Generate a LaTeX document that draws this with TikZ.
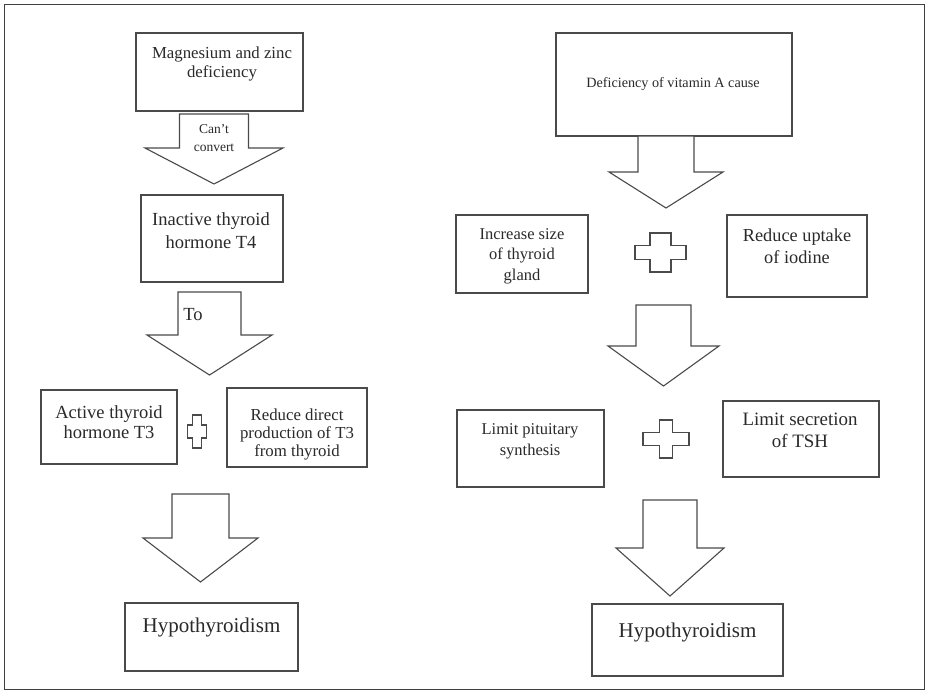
\documentclass[tikz,border=0pt]{standalone}
\usepackage{fontspec}
\setmainfont{Liberation Serif}
\usetikzlibrary{fit}
\definecolor{linec}{HTML}{4A4A4A}
\definecolor{textc}{HTML}{2A2A2A}
\tikzset{
  box/.style={draw=linec, line width=1.4pt, inner sep=0pt, fill=white},
  arrowbody/.style={draw=linec, line width=1.1pt, line join=miter, fill=white},
  plusst/.style={draw=linec, line width=1.1pt, fill=white},
  txt/.style={text=textc, align=center, inner sep=0pt},
  frame/.style={draw=black!75, line width=0.8pt}
}
\newcommand{\blockarr}[6]{%
  \draw[arrowbody] (#1-#3,#2) -- (#1-#3,#4) -- (#1-#5,#4) -- (#1,#6) -- (#1+#5,#4) -- (#1+#3,#4) -- (#1+#3,#2) -- cycle;}
\newcommand{\plusshape}[6]{%
  \draw[plusst] (#1-#5,#2-#4) -- (#1+#5,#2-#4) -- (#1+#5,#2-#6) -- (#1+#3,#2-#6) -- (#1+#3,#2+#6) -- (#1+#5,#2+#6) -- (#1+#5,#2+#4) -- (#1-#5,#2+#4) -- (#1-#5,#2+#6) -- (#1-#3,#2+#6) -- (#1-#3,#2-#6) -- (#1-#5,#2-#6) -- cycle;}
\begin{document}
\begin{tikzpicture}[x=1pt,y=-1pt]
\useasboundingbox (0,0) rectangle (928,693);
\fill[white] (0,0) rectangle (928,693);
\draw[frame] (4,4) rectangle (924,689);

% ---------- left column ----------
\node[box, fit={(136,33) (303,111)}] (l1) {};
\node[txt, font=\fontsize{16.8}{19}\selectfont] (l1t) at (222,64) {Magnesium and zinc\\deficiency};

\blockarr{214}{114}{34.5}{148}{69}{184}
\node[txt, font=\fontsize{13.5}{18}\selectfont] (a1t) at (214,138) {Can't\\convert};

\node[box, fit={(141,195) (283,282)}] (l2) {};
\node[txt, font=\fontsize{18.5}{23}\selectfont] (l2t) at (211,231) {Inactive thyroid\\hormone T4};

\blockarr{209.5}{292}{31.5}{335}{62.5}{375}
\node[txt, font=\fontsize{18.5}{22}\selectfont] (a2t) at (193,315) {To};

\node[box, fit={(41,390) (177,464)}] (l3a) {};
\node[txt, font=\fontsize{18.5}{20}\selectfont] (l3at) at (109,422) {Active thyroid\\hormone T3};

\plusshape{197}{431.5}{9.5}{16.5}{4.5}{6.5}

\node[box, fit={(227,388) (367,467)}] (l3b) {};
\node[txt, font=\fontsize{16.8}{18}\selectfont] (l3bt) at (297,434) {Reduce direct\\production of T3\\from thyroid};

\blockarr{200.5}{494}{28.5}{538}{57.5}{582}

\node[box, fit={(125,603) (298,671)}] (l4) {};
\node[txt, font=\fontsize{21}{24}\selectfont] (l4t) at (211.5,627) {Hypothyroidism};

% ---------- right column ----------
\node[box, fit={(556,33) (792,136)}] (r1) {};
\node[txt, font=\fontsize{14.2}{17}\selectfont] (r1t) at (673,84) {Deficiency of vitamin A cause};

\blockarr{666}{136}{28}{172}{57}{208}

\node[box, fit={(456,215) (588,293)}] (r2a) {};
\node[txt, font=\fontsize{16.5}{20.5}\selectfont] (r2at) at (522,256) {Increase size\\of thyroid\\gland};

\plusshape{660.5}{252.5}{25.5}{19.5}{10.5}{7}

\node[box, fit={(727,215) (867,297)}] (r2b) {};
\node[txt, font=\fontsize{18.3}{22}\selectfont] (r2bt) at (797,246) {Reduce uptake\\of iodine};

\blockarr{663.5}{305}{27.5}{346}{55.5}{386}

\node[box, fit={(457,410) (604,487)}] (r3a) {};
\node[txt, font=\fontsize{16.5}{21}\selectfont] (r3at) at (530,441) {Limit pituitary\\synthesis};

\plusshape{666}{439}{23}{19}{6.5}{6.5}

\node[box, fit={(723,401) (879,477)}] (r3b) {};
\node[txt, font=\fontsize{18.9}{22}\selectfont] (r3bt) at (800,430) {Limit secretion\\of TSH};

\blockarr{670}{500}{27}{548}{54}{596}

\node[box, fit={(592,604) (783,676)}] (r4) {};
\node[txt, font=\fontsize{21}{24}\selectfont] (r4t) at (687.5,632) {Hypothyroidism};
\end{tikzpicture}
\end{document}
